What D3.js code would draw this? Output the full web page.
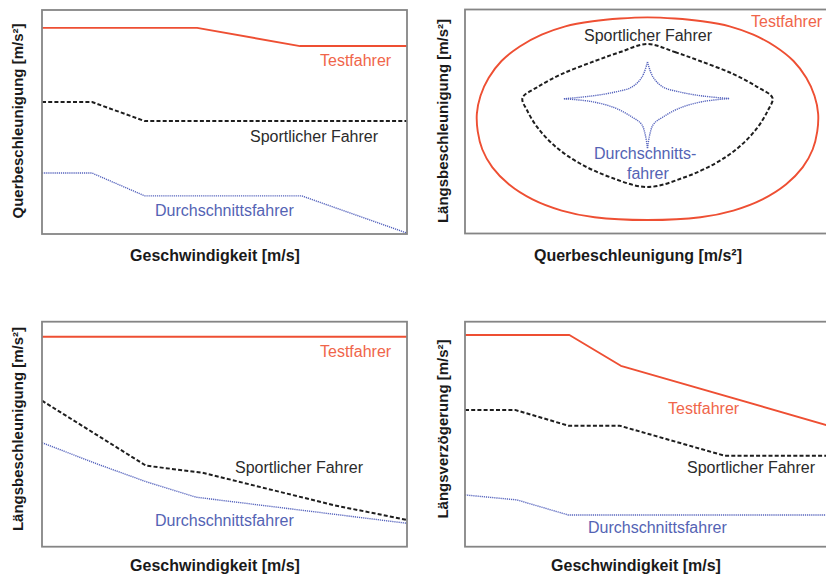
<!DOCTYPE html>
<html>
<head>
<meta charset="utf-8">
<script src="https://cdn.jsdelivr.net/npm/d3@7"></script>
<style>
  html, body { margin: 0; padding: 0; background: #fff; }
  svg { display: block; }
  text { font-family: "Liberation Sans", Arial, sans-serif; }
</style>
</head>
<body>
<svg id="chart" width="826" height="574"></svg>
<script>
// ---- Series: speed-dependent acceleration limits (x and y on 0–100 relative scale)
// Panel A: Querbeschleunigung über Geschwindigkeit
const querTest   = [[0, 92.0], [42.5, 92.0], [70.7, 83.9], [100, 83.9]];
const querSport  = [[0, 58.9], [13.7, 58.9], [28.2, 50.4], [100, 50.4]];
const querSchnitt = [[0, 27.2], [13.7, 27.2], [28.2, 17.0], [71.2, 17.0], [100, 0.4]];

// Panel C: Längsbeschleunigung über Geschwindigkeit
const laengsTest   = [[0, 93.3], [100, 93.3]];
const laengsSport  = [[0, 64.9], [28.5, 36.0], [44.0, 32.9], [61.6, 25.8], [79.8, 18.5], [100, 11.9]];
const laengsSchnitt = [[0, 46.2], [15.9, 36.3], [28.5, 28.9], [42.2, 22.0], [70.7, 16.3], [100, 10.4]];

// Panel D: Längsverzögerung über Geschwindigkeit
const verzTest   = [[0, 94.1], [28.6, 94.1], [42.7, 80.4], [100, 53.6]];
const verzSport  = [[0, 60.8], [13.7, 60.8], [28.3, 53.8], [42.3, 53.8], [71.2, 40.4], [100, 40.4]];
const verzSchnitt = [[0, 23.0], [14.2, 20.8], [28.3, 14.1], [100, 14.1]];

// Panel B: g-g diagram (Querbeschleunigung x, Längsbeschleunigung y, range -10..10)
const ggTest = [
  [0, 9.3], [1.5, 9.2], [3.0, 8.95], [4.5, 8.5], [5.8, 7.75], [7.0, 6.7], [8.0, 5.4],
  [8.7, 3.9], [9.15, 2.3], [9.35, 0.7], [9.3, -0.9], [9.05, -2.5], [8.5, -4.1],
  [7.6, -5.6], [6.3, -6.95], [4.7, -7.95], [2.9, -8.55], [0, -8.8],
  [-2.9, -8.55], [-4.7, -7.95], [-6.3, -6.95], [-7.6, -5.6], [-8.5, -4.1],
  [-9.05, -2.5], [-9.3, -0.9], [-9.35, 0.7], [-9.15, 2.3], [-8.7, 3.9], [-8.0, 5.4],
  [-7.0, 6.7], [-5.8, 7.75], [-4.5, 8.5], [-3.0, 8.95], [-1.5, 9.2]
];
const ggSport = [
  [0, 6.92], [1.5, 6.2], [2.88, 5.4], [4.68, 4.25], [6.0, 3.1], [6.85, 2.1],
  [6.6, 1.0], [6.0, -0.6], [5.0, -2.3], [3.7, -3.75], [2.0, -5.0], [0, -5.85],
  [-2.0, -5.0], [-3.7, -3.75], [-5.0, -2.3], [-6.0, -0.6], [-6.6, 1.0],
  [-6.85, 2.1], [-6.0, 3.1], [-4.68, 4.25], [-2.88, 5.4], [-1.5, 6.2]
];
// Durchschnittsfahrer: four concave arcs meeting at cusps
const ggSchnittArcs = [
  [[-4.58, 2.03], [-3.04, 2.28], [-1.78, 2.63], [-0.85, 3.08], [-0.30, 3.97], [0, 5.31]],
  [[0, 5.31], [0.30, 3.97], [0.85, 3.08], [1.78, 2.63], [3.00, 2.28], [4.47, 2.05]],
  [[4.47, 2.05], [3.00, 1.77], [1.78, 1.21], [0.85, 0.40], [0.30, -0.31], [0, -2.37]],
  [[0, -2.37], [-0.30, -0.31], [-0.85, 0.40], [-1.78, 1.21], [-3.04, 1.77], [-4.58, 2.03]]
];

// ---- Text
const nameTest = "Testfahrer";
const nameSport = "Sportlicher Fahrer";
const nameSchnitt = "Durchschnittsfahrer";
const nameSchnittSplit = ["Durchschnitts-", "fahrer"];
const xTitles = ["Geschwindigkeit [m/s]", "Querbeschleunigung [m/s²]", "Geschwindigkeit [m/s]", "Geschwindigkeit [m/s]"];
const yTitles = ["Querbeschleunigung [m/s²]", "Längsbeschleunigung [m/s²]", "Längsbeschleunigung [m/s²]", "Längsverzögerung [m/s²]"];

// ---- Styles
const COL_TEST = "#ee4f33";
const COL_TEST_TXT = "#f0654a";
const COL_SPORT = "#1e1e1e";
const COL_SPORT_TXT = "#2b2b2b";
const COL_SCHNITT = "#5563bd";
const COL_SCHNITT_TXT = "#5463b4";

const styles = {
  test:    { stroke: COL_TEST, width: 1.9, dash: null },
  sport:   { stroke: COL_SPORT, width: 2.0, dash: "4,2.2" },
  schnitt: { stroke: COL_SCHNITT, width: 1.4, dash: "1.2,0.9" }
};

const svg = d3.select("#chart");

// Panel frames (pixel boxes)
const frames = [
  { x: 42,  y: 10,    w: 365, h: 224 },
  { x: 465, y: 9.5,   w: 365, h: 224 },
  { x: 42,  y: 321.7, w: 365, h: 225 },
  { x: 465, y: 321.7, w: 365, h: 225 }
];

function makePanel(i, xDomain, yDomain) {
  const f = frames[i];
  const g = svg.append("g").attr("transform", `translate(${f.x},${f.y})`);
  const x = d3.scaleLinear().domain(xDomain).range([0, f.w]);
  const y = d3.scaleLinear().domain(yDomain).range([f.h, 0]);
  g.append("clipPath").attr("id", "clip" + i)
    .append("rect").attr("x", -1).attr("y", -1).attr("width", f.w + 2).attr("height", f.h + 2);
  const plot = g.append("g").attr("clip-path", `url(#clip${i})`);
  return { g, plot, x, y, f };
}

function drawFrame(p) {
  p.g.append("rect")
    .attr("x", 0).attr("y", 0).attr("width", p.f.w).attr("height", p.f.h)
    .attr("fill", "none").attr("stroke", "#858585").attr("stroke-width", 1.8);
}

function drawSeries(p, data, st, curve) {
  const line = d3.line().x(d => p.x(d[0])).y(d => p.y(d[1])).curve(curve || d3.curveLinear);
  p.plot.append("path")
    .attr("d", line(data))
    .attr("fill", "none")
    .attr("stroke", st.stroke)
    .attr("stroke-width", st.width)
    .attr("stroke-dasharray", st.dash)
    .attr("stroke-linejoin", "round");
}

function label(sel, txt, px, py, color) {
  sel.append("text").attr("x", px).attr("y", py)
    .attr("font-size", 16).attr("fill", color).text(txt);
}

function titles(i, xCenter, xBase, yCenter, yBase) {
  svg.append("text")
    .attr("x", xCenter).attr("y", xBase)
    .attr("text-anchor", "middle").attr("font-size", 16).attr("font-weight", "bold")
    .attr("fill", "#1a1a1a").text(xTitles[i]);
  svg.append("text")
    .attr("transform", `translate(${yBase},${yCenter}) rotate(-90)`)
    .attr("text-anchor", "middle").attr("font-size", 15).attr("font-weight", "bold")
    .attr("fill", "#1a1a1a").text(yTitles[i]);
}

// ---- Panel A
{
  const p = makePanel(0, [0, 100], [0, 100]);
  drawSeries(p, querTest, styles.test);
  drawSeries(p, querSport, styles.sport);
  drawSeries(p, querSchnitt, styles.schnitt);
  drawFrame(p);
  label(svg, nameTest, 320, 66, COL_TEST_TXT);
  label(svg, nameSport, 250, 141.5, COL_SPORT_TXT);
  label(svg, nameSchnitt, 155, 215.5, COL_SCHNITT_TXT);
  titles(0, 215, 260.5, 121, 23);
}

// ---- Panel B
{
  const p = makePanel(1, [-10, 10], [-10, 10]);
  drawSeries(p, ggTest, styles.test, d3.curveCatmullRomClosed.alpha(0.5));
  drawSeries(p, ggSport, styles.sport, d3.curveCatmullRomClosed.alpha(0.5));
  ggSchnittArcs.forEach(a => drawSeries(p, a, styles.schnitt, d3.curveCatmullRom.alpha(0.5)));
  drawFrame(p);
  label(svg, nameTest, 751, 26.7, COL_TEST_TXT);
  label(svg, nameSport, 584, 40.7, COL_SPORT_TXT);
  label(svg, nameSchnittSplit[0], 594, 159.3, COL_SCHNITT_TXT);
  label(svg, nameSchnittSplit[1], 627, 179.3, COL_SCHNITT_TXT);
  titles(1, 638, 260.5, 121, 448);
}

// ---- Panel C
{
  const p = makePanel(2, [0, 100], [0, 100]);
  drawSeries(p, laengsTest, styles.test);
  drawSeries(p, laengsSport, styles.sport);
  drawSeries(p, laengsSchnitt, styles.schnitt);
  drawFrame(p);
  label(svg, nameTest, 320, 357.3, COL_TEST_TXT);
  label(svg, nameSport, 235, 473.3, COL_SPORT_TXT);
  label(svg, nameSchnitt, 155, 525.7, COL_SCHNITT_TXT);
  titles(2, 215, 570.5, 429, 23);
}

// ---- Panel D
{
  const p = makePanel(3, [0, 100], [0, 100]);
  drawSeries(p, verzTest, styles.test);
  drawSeries(p, verzSport, styles.sport);
  drawSeries(p, verzSchnitt, styles.schnitt);
  drawFrame(p);
  label(svg, nameTest, 668, 414, COL_TEST_TXT);
  label(svg, nameSport, 687, 473.3, COL_SPORT_TXT);
  label(svg, nameSchnitt, 588, 532.7, COL_SCHNITT_TXT);
  titles(3, 636, 570.5, 429, 448);
}
</script>
</body>
</html>
